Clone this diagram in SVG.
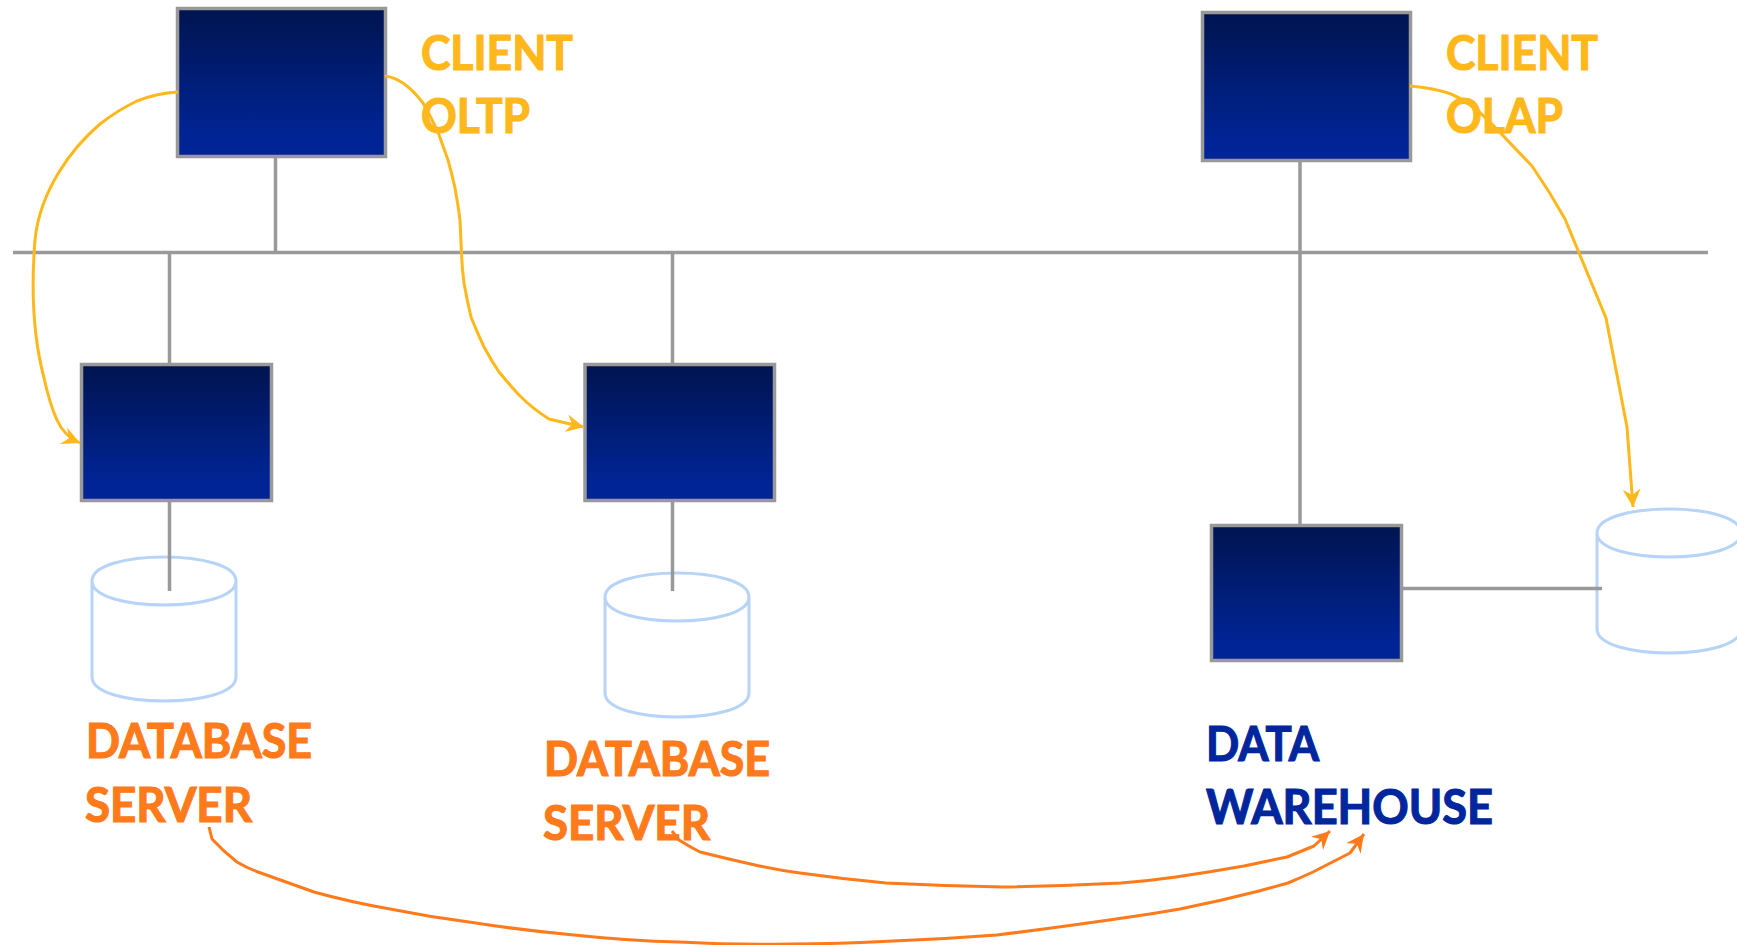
<svg xmlns="http://www.w3.org/2000/svg" width="1737" height="945" viewBox="0 0 1737 945">
<style>
.box{fill:url(#g);stroke:#999;stroke-width:3.500}
.cyl{fill:#fff;stroke:#b7d3f5;stroke-width:3}
.wire{fill:none;stroke:#999;stroke-width:3.500}
.arc{fill:none;stroke-width:3;stroke-linejoin:round}
.amber{stroke:#ffb81c;marker-end:url(#ma)}
.orange{stroke:#ff7a1a;marker-end:url(#mo)}
text{font-family:Lato,"Liberation Sans",sans-serif;font-weight:700;font-size:48px;stroke-width:1.2px}
.ta{fill:#ffb81c;stroke:#ffb81c}.to{fill:#ff7a1a;stroke:#ff7a1a}.tb{fill:#00269e;stroke:#00269e}
</style>
<defs>
<linearGradient id="g" x1="0" y1="0" x2="0" y2="1"><stop offset="0" stop-color="#00144f"/><stop offset="0.85" stop-color="#002495"/><stop offset="1" stop-color="#002495"/></linearGradient>
<marker id="ma" markerUnits="userSpaceOnUse" markerWidth="20" markerHeight="20" refX="18" refY="9" orient="auto"><path d="M0 0L18 9L0 18L6 9Z" fill="#ffb81c"/></marker>
<marker id="mo" markerUnits="userSpaceOnUse" markerWidth="20" markerHeight="20" refX="18" refY="9" orient="auto"><path d="M0 0L18 9L0 18L6 9Z" fill="#ff7a1a"/></marker>
<path id="c" d="M0 24C0 -8 144 -8 144 24V120C144 152 0 152 0 120ZM0 24C0 56 144 56 144 24"/>
</defs>
<g id="client-oltp"><rect class="box" x="177.500" y="8.500" width="208" height="148"/><text class="ta" x="421" y="70" textLength="152" lengthAdjust="spacingAndGlyphs">CLIENT</text><text class="ta" x="421" y="133" textLength="109" lengthAdjust="spacingAndGlyphs">OLTP</text></g>
<g id="client-olap"><rect class="box" x="1202.500" y="12.500" width="208" height="148"/><text class="ta" x="1446" y="70" textLength="152" lengthAdjust="spacingAndGlyphs">CLIENT</text><text class="ta" x="1446" y="133" textLength="117" lengthAdjust="spacingAndGlyphs">OLAP</text></g>
<g id="server-1"><rect class="box" x="81.500" y="364.500" width="190" height="136"/></g>
<g id="server-2"><rect class="box" x="585" y="364.500" width="189.500" height="136"/></g>
<g id="warehouse"><rect class="box" x="1211.500" y="525.500" width="190" height="135"/><text class="tb" x="1206" y="761" textLength="113" lengthAdjust="spacingAndGlyphs">DATA</text><text class="tb" x="1206" y="824" textLength="287" lengthAdjust="spacingAndGlyphs">WAREHOUSE</text></g>
<g id="db-1"><use href="#c" class="cyl" x="92" y="557"/><text class="to" x="86" y="758" textLength="226" lengthAdjust="spacingAndGlyphs">DATABASE</text><text class="to" x="85" y="822" textLength="167" lengthAdjust="spacingAndGlyphs">SERVER</text></g>
<g id="db-2"><use href="#c" class="cyl" x="605" y="573"/><text class="to" x="544" y="776" textLength="226" lengthAdjust="spacingAndGlyphs">DATABASE</text><text class="to" x="543" y="840" textLength="167" lengthAdjust="spacingAndGlyphs">SERVER</text></g>
<g id="db-3"><use href="#c" class="cyl" x="1597" y="509"/></g>
<g id="connectors">
<path class="wire" d="M13 252.500H1708M275.500 157V252M169.500 253V364M672.500 253V364M1300 162V525M169.500 501V591M672.500 501V591M1402 588.500H1602"/>
<path class="arc amber" d="M178 92Q157 93 137 101Q118 110 100 124C72 148 40 190 35 240C31 290 34 340 44 378Q50 405 57 420Q64 436 80 443"/>
<path class="arc amber" d="M385 76Q404 78 423 103Q431 117 438 132Q443 146 448 160Q452 174 455 188Q458 204 460 220L461.500 253Q462 268 464 283Q467 300 471 317Q477 332 484 347Q491 360 499 372Q509 384 519 395Q533 409 549 419Q565 423 584 427"/>
<path class="arc amber" d="M1410 86Q1434 88 1451 94Q1470 102 1490 122L1532 166Q1550 192 1565 219L1606 318L1627 427L1633 507"/>
<path class="arc orange" d="M209 827L212 839Q224 852 237 862Q247 868 258 872L314 892Q350 902 390 909Q430 917 469 922Q520 930 574 935Q630 941 679 942Q735 945 789 944Q840 944 893 941Q945 939 997 935Q1070 926 1150 914L1180 909Q1220 901 1259 891L1288 883Q1300 878 1313 872L1350 853L1364 834"/>
<path class="arc orange" d="M672 831L679 840Q690 847 700 852Q728 859 755 865Q778 870 800 873Q843 879 886 883Q945 886 1003 887Q1062 886 1121 883Q1148 881 1176 877Q1210 872 1244 866L1287 857L1314 846L1330 831"/>
</g>
</svg>
